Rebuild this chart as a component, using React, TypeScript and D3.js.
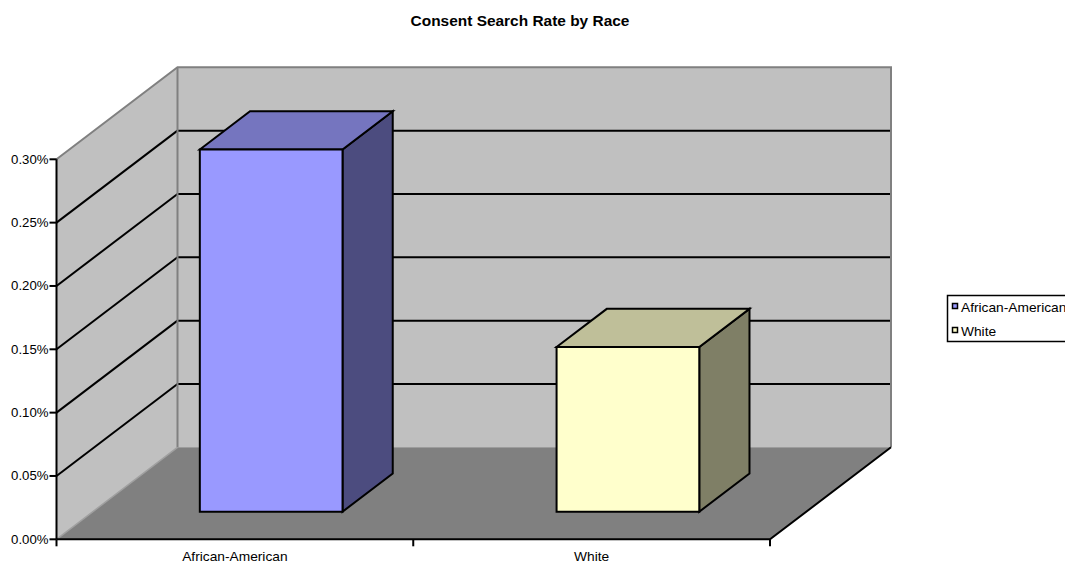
import React from "react";
import * as d3 from "d3";

const categories = ["African-American", "White"];
const values = [0.00286, 0.0013];
const yTicks = [0, 0.0005, 0.001, 0.0015, 0.002, 0.0025, 0.003];
const seriesNames = ["African-American", "White"];
const frontColors = ["#9999FF", "#FFFFCC"];
const topColors = ["#7575BF", "#BFBF99"];
const sideColors = ["#4C4C7F", "#7F7F66"];

const W = 1065;
const H = 563;
const DX = 121;
const DY = 92;
const BAR_D0 = 0.3;
const BAR_D1 = 0.715;
const FONT = 'Arial, "Liberation Sans", sans-serif';

export default function App() {
  const y = d3.scaleLinear().domain([0, 0.003]).range([539.3, 159.3]);
  const xCat = d3.scaleBand<string>().domain(categories).range([56.5, 770]);
  const xBar = d3
    .scaleBand<string>()
    .domain(categories)
    .range([56.5, 770])
    .paddingInner(0.6)
    .paddingOuter(0.3);
  const fmt = d3.format(".2%");

  const P = (x: number, v: number, d: number): [number, number] => [x + d * DX, y(v) - d * DY];
  const poly = (pts: [number, number][]) => pts.map((p) => p.join(",")).join(" ");

  const x0 = xCat.range()[0];
  const x1 = xCat.range()[1];
  const vMax = 0.003;

  return (
    <svg
      width={W}
      height={H}
      style={{ position: "absolute", left: 0, top: 0, background: "#fff" }}
      fontFamily={FONT}
    >
      <text transform="translate(520,26) scale(1.03,1)" textAnchor="middle" fontSize={15} fontWeight="bold" fill="#000">
        Consent Search Rate by Race
      </text>

      {/* left wall */}
      <polygon
        points={poly([P(x0, 0, 0), P(x0, vMax, 0), P(x0, vMax, 1), P(x0, 0, 1)])}
        fill="#C0C0C0"
        stroke="none"
      />
      {/* back wall */}
      <polygon
        points={poly([P(x0, 0, 1), P(x0, vMax, 1), P(x1, vMax, 1), P(x1, 0, 1)])}
        fill="#C0C0C0"
        stroke="none"
      />
      {/* floor */}
      <polygon
        points={poly([P(x0, 0, 0), P(x0, 0, 1), P(x1, 0, 1), P(x1, 0, 0)])}
        fill="#808080"
        stroke="none"
      />

      {/* gridlines */}
      {yTicks.slice(1, -1).map((t) => (
        <g key={t}>
          <line x1={P(x0, t, 0)[0]} y1={P(x0, t, 0)[1]} x2={P(x0, t, 1)[0]} y2={P(x0, t, 1)[1]} stroke="#000" strokeWidth={2} />
          <line x1={P(x0, t, 1)[0]} y1={P(x0, t, 1)[1]} x2={P(x1, t, 1)[0]} y2={P(x1, t, 1)[1]} stroke="#000" strokeWidth={2} />
        </g>
      ))}

      {/* wall borders */}
      <polyline
        points={poly([P(x0, vMax, 0), P(x0, vMax, 1), P(x1, vMax, 1), P(x1, 0, 1)])}
        fill="none"
        stroke="#808080"
        strokeWidth={2}
      />
      <line x1={P(x0, 0, 1)[0]} y1={P(x0, 0, 1)[1]} x2={P(x0, vMax, 1)[0]} y2={P(x0, vMax, 1)[1]} stroke="#808080" strokeWidth={2} />
      <line x1={P(x0, 0, 0)[0]} y1={P(x0, 0, 0)[1]} x2={P(x0, 0, 1)[0]} y2={P(x0, 0, 1)[1]} stroke="#A0A0A0" strokeWidth={1.5} />
      {/* floor black edges */}
      <polyline
        points={poly([P(x0, 0, 0), P(x1, 0, 0), P(x1, 0, 1)])}
        fill="none"
        stroke="#000"
        strokeWidth={2}
      />

      {/* bars */}
      {categories.map((c, i) => {
        const bx0 = xBar(c)!;
        const bx1 = bx0 + xBar.bandwidth();
        const v = values[i];
        const front = [P(bx0, 0, BAR_D0), P(bx0, v, BAR_D0), P(bx1, v, BAR_D0), P(bx1, 0, BAR_D0)];
        const top = [P(bx0, v, BAR_D0), P(bx0, v, BAR_D1), P(bx1, v, BAR_D1), P(bx1, v, BAR_D0)];
        const side = [P(bx1, 0, BAR_D0), P(bx1, v, BAR_D0), P(bx1, v, BAR_D1), P(bx1, 0, BAR_D1)];
        return (
          <g key={c} stroke="#000" strokeWidth={2} strokeLinejoin="miter">
            <polygon points={poly(side)} fill={sideColors[i]} />
            <polygon points={poly(top)} fill={topColors[i]} />
            <polygon points={poly(front)} fill={frontColors[i]} />
          </g>
        );
      })}

      {/* y axis */}
      <line x1={x0} y1={y(0)} x2={x0} y2={y(vMax)} stroke="#000" strokeWidth={2} />
      {yTicks.map((t) => (
        <g key={"yt" + t}>
          <line x1={x0 - 7} x2={x0} y1={y(t)} y2={y(t)} stroke="#000" strokeWidth={2} />
          <text
            transform={`translate(${x0 - 8},${y(t) + 4.5}) scale(1.1,1)`}
            textAnchor="end"
            fontSize={12}
            fill="#000"
          >
            {fmt(t)}
          </text>
        </g>
      ))}

      {/* x axis ticks */}
      {[...categories.map((c) => xCat(c)!), x1].map((xv, i) => (
        <line key={"xt" + i} x1={xv} x2={xv} y1={y(0)} y2={y(0) + 7} stroke="#000" strokeWidth={2} />
      ))}
      {categories.map((c) => {
        const cx = xCat(c)! + xCat.bandwidth() / 2;
        return (
          <text
            key={"xl" + c}
            transform={`translate(${cx},561) scale(1.1,1)`}
            textAnchor="middle"
            fontSize={12.5}
            fill="#000"
          >
            {c}
          </text>
        );
      })}

      {/* legend */}
      <rect x={947.5} y={295.5} width={125} height={46} fill="#fff" stroke="#000" strokeWidth={1.5} />
      {seriesNames.map((s, i) => (
        <g key={"lg" + s}>
          <rect x={952.5} y={303.5 + i * 24} width={5} height={5} fill={frontColors[i]} stroke="#000" strokeWidth={1.5} />
          <text transform={`translate(961,${311.5 + i * 24}) scale(1.1,1)`} fontSize={12.5} fill="#000">
            {s}
          </text>
        </g>
      ))}
    </svg>
  );
}
